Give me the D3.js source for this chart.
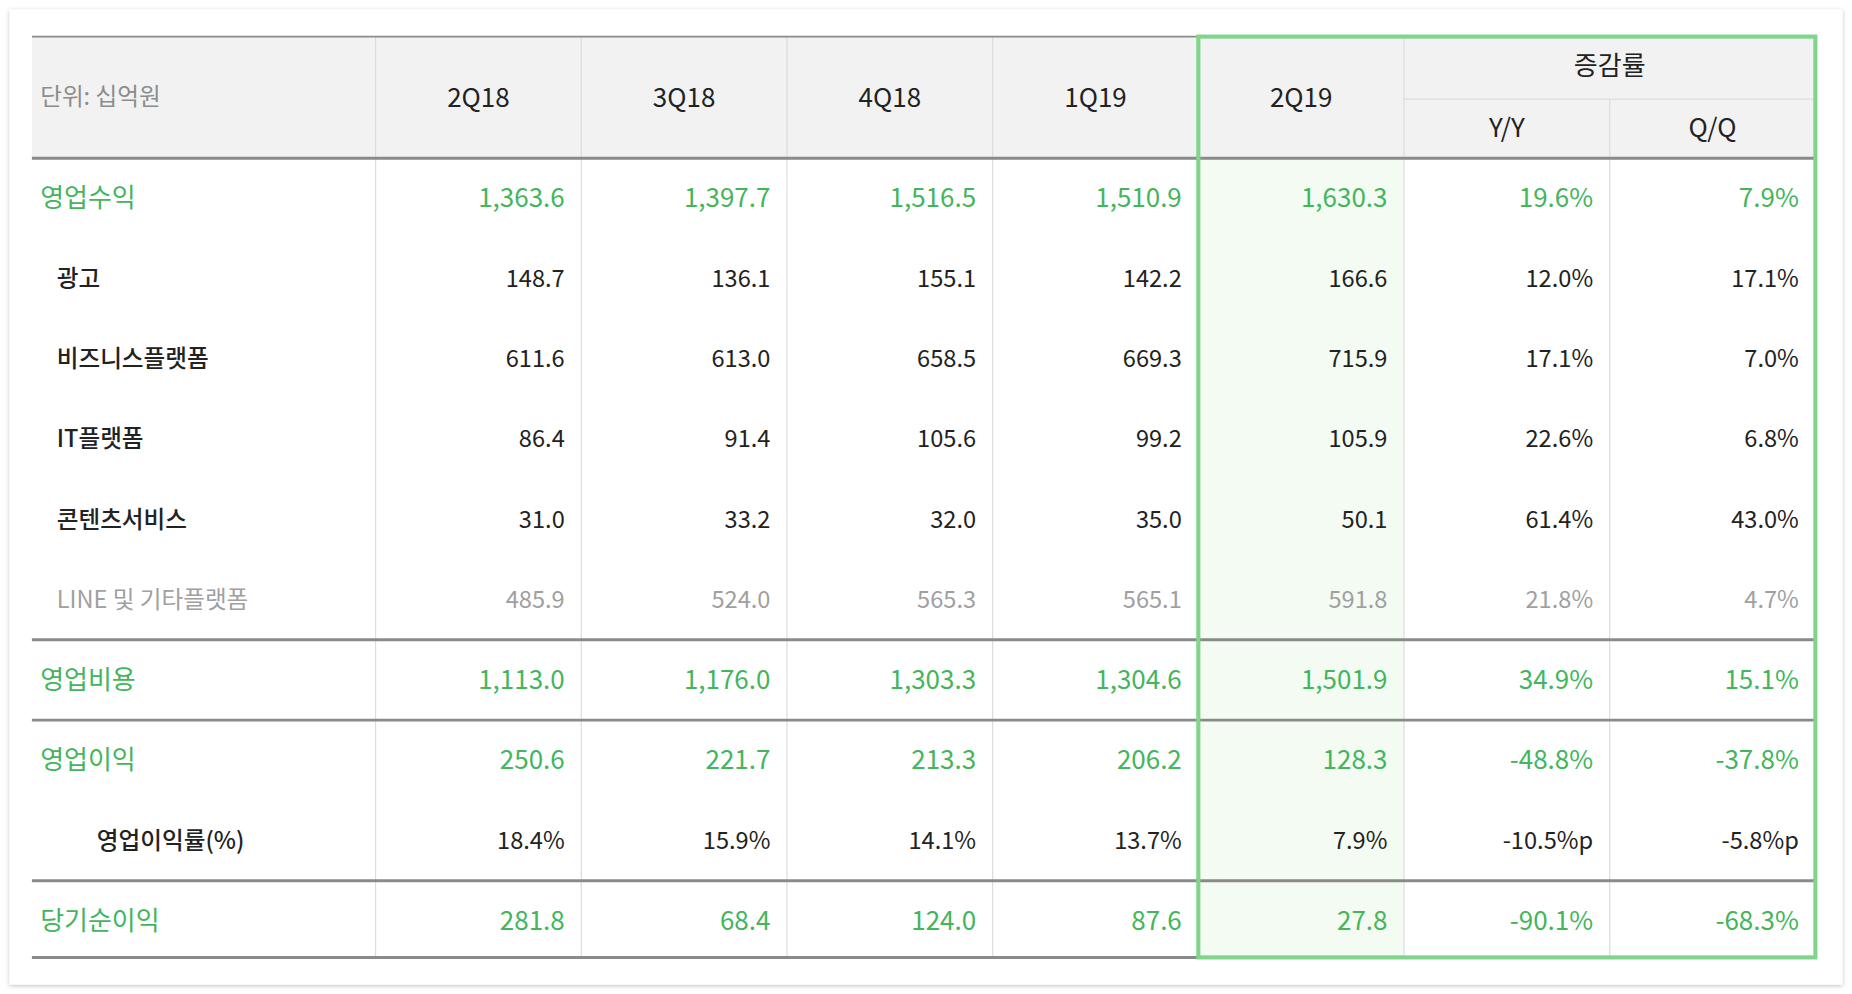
<!DOCTYPE html>
<html><head><meta charset="utf-8">
<script src="https://cdn.jsdelivr.net/npm/d3@7"></script>
<style>body{margin:0;background:#fff}svg{display:block}</style>
</head><body>
<svg id="chart"></svg>
<script>
const periods = ["2Q18", "3Q18", "4Q18", "1Q19", "2Q19", "Y/Y", "Q/Q"];
const rowLabels = ["영업수익", "광고", "비즈니스플랫폼", "IT플랫폼", "콘텐츠서비스", "LINE 및 기타플랫폼", "영업비용", "영업이익", "영업이익률(%)", "당기순이익"];
const rowKinds = ["main", "sub", "sub", "sub", "sub", "muted", "main", "main", "sub2", "main"];
const q2_18 = ["1,363.6", "148.7", "611.6", "86.4", "31.0", "485.9", "1,113.0", "250.6", "18.4%", "281.8"];
const q3_18 = ["1,397.7", "136.1", "613.0", "91.4", "33.2", "524.0", "1,176.0", "221.7", "15.9%", "68.4"];
const q4_18 = ["1,516.5", "155.1", "658.5", "105.6", "32.0", "565.3", "1,303.3", "213.3", "14.1%", "124.0"];
const q1_19 = ["1,510.9", "142.2", "669.3", "99.2", "35.0", "565.1", "1,304.6", "206.2", "13.7%", "87.6"];
const q2_19 = ["1,630.3", "166.6", "715.9", "105.9", "50.1", "591.8", "1,501.9", "128.3", "7.9%", "27.8"];
const yoy = ["19.6%", "12.0%", "17.1%", "22.6%", "61.4%", "21.8%", "34.9%", "-48.8%", "-10.5%p", "-90.1%"];
const qoq = ["7.9%", "17.1%", "7.0%", "6.8%", "43.0%", "4.7%", "15.1%", "-37.8%", "-5.8%p", "-68.3%"];
const columns = [q2_18, q3_18, q4_18, q1_19, q2_19, yoy, qoq];
const unitLabel = "단위: 십억원";
const groupLabel = "증감률";

const W = 1568, H = 842;
const green = "#43b55b", dark = "#222", muted = "#a0a0a0";
const font = "'Noto Sans CJK KR', 'Noto Sans', sans-serif";
const svg = d3.select("#chart").attr("width", 1852).attr("height", 994)
  .attr("viewBox", `0 0 ${W} ${H}`).attr("preserveAspectRatio", "none")
  .style("font-family", font);

const x = d3.scaleBand().domain(d3.range(periods.length)).range([318, 1537]);
const y = d3.scaleBand().domain(d3.range(rowLabels.length)).range([134, 814]);
const tblLeft = 27, tblTop = 31, headBot = 134, subY = 84, tblBottom = 811;

// card + shadow
const defs = svg.append("defs");
const f = defs.append("filter").attr("id", "sh").attr("x", "-5%").attr("y", "-5%").attr("width", "110%").attr("height", "110%");
f.append("feDropShadow").attr("dx", 0).attr("dy", 1).attr("stdDeviation", 2).attr("flood-color", "#000").attr("flood-opacity", 0.25);
svg.append("rect").attr("x", 8).attr("y", 8).attr("width", 1552).attr("height", 826).attr("fill", "#fff").attr("filter", "url(#sh)");

// header bg
svg.append("rect").attr("x", tblLeft).attr("y", tblTop).attr("width", 1537 - tblLeft).attr("height", headBot - tblTop).attr("fill", "#f2f2f2");
// highlight column
svg.append("rect").attr("x", x(4)).attr("y", headBot).attr("width", x.bandwidth()).attr("height", tblBottom - headBot).attr("fill", "#f4fbf2");

// vertical grid
svg.selectAll(".vl").data(d3.range(periods.length)).join("line")
  .attr("x1", d => x(d)).attr("x2", d => x(d))
  .attr("y1", d => d === 6 ? subY : tblTop).attr("y2", tblBottom)
  .attr("stroke", "#dcdcdc").attr("stroke-width", 1);
svg.append("line").attr("x1", x(5)).attr("x2", 1537).attr("y1", subY).attr("y2", subY).attr("stroke", "#dcdcdc");

// horizontal dark rules
[tblTop, headBot, y(6), y(7), y(9), tblBottom].forEach((yy, i) => {
  svg.append("line").attr("x1", tblLeft).attr("x2", 1537).attr("y1", yy).attr("y2", yy)
    .attr("stroke", "#8a8a8a").attr("stroke-width", i === 0 ? 1.5 : 2.5);
});

// header text
svg.append("text").attr("x", 34).attr("y", 82).attr("dy", "0.35em").attr("fill", "#8c8c8c")
  .attr("font-size", 20).text(unitLabel);
svg.selectAll(".ph").data(periods).join("text")
  .attr("x", (d, i) => x(i) + x.bandwidth() / 2)
  .attr("y", (d, i) => i < 5 ? 83 : 108).attr("dy", "0.35em")
  .attr("text-anchor", "middle").attr("font-size", 22).attr("fill", dark).text(d => d);
svg.append("text").attr("x", x(5) + x.bandwidth()).attr("y", 56).attr("dy", "0.35em")
  .attr("text-anchor", "middle").attr("font-size", 22).attr("fill", dark).text(groupLabel);

// row labels
const indent = { main: 34, sub: 48, muted: 48, sub2: 82 };
const colorOf = k => k === "main" ? green : k === "muted" ? muted : dark;
svg.selectAll(".rl").data(rowLabels).join("text")
  .attr("x", (d, i) => indent[rowKinds[i]])
  .attr("y", (d, i) => y(i) + y.bandwidth() / 2).attr("dy", "0.35em")
  .attr("font-size", (d, i) => rowKinds[i] === "main" ? 22 : 20)
  .attr("font-weight", (d, i) => rowKinds[i] === "sub" || rowKinds[i] === "sub2" ? 500 : 400)
  .attr("fill", (d, i) => colorOf(rowKinds[i])).text(d => d);

// cells
columns.forEach((col, c) => {
  svg.selectAll(".c" + c).data(col).join("text")
    .attr("x", x(c) + x.bandwidth() - 14)
    .attr("y", (d, i) => y(i) + y.bandwidth() / 2).attr("dy", "0.35em")
    .attr("text-anchor", "end")
    .attr("font-size", (d, i) => rowKinds[i] === "main" ? 22 : 20)
    .attr("fill", (d, i) => colorOf(rowKinds[i])).text(d => d);
});

// green highlight frame
svg.append("rect").attr("x", x(4)).attr("y", tblTop).attr("width", 1537 - x(4)).attr("height", tblBottom - tblTop)
  .attr("fill", "none").attr("stroke", "#80d48b").attr("stroke-width", 3.5);
</script>
</body></html>
